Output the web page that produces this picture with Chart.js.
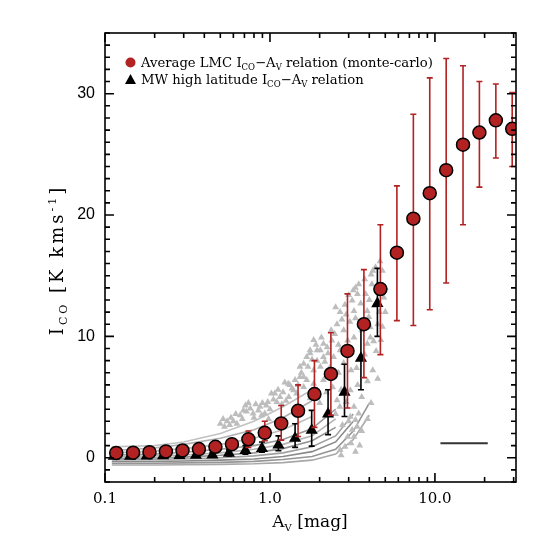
<!DOCTYPE html>
<html lang="en">
<head>
<meta charset="UTF-8" />
<title>Ico - Av relation</title>
<script src="https://cdn.jsdelivr.net/npm/chart.js"></script>
<style>
  html, body { margin: 0; padding: 0; background: #ffffff; }
  canvas { display: block; }
</style>
</head>
<body>
<canvas id="icoChart" width="548" height="548"></canvas>
<script>
// LMC average relation (monte-carlo), red circles
const lmcAv  = [0.117, 0.148, 0.186, 0.234, 0.295, 0.371, 0.467, 0.588, 0.74, 0.93, 1.17, 1.48, 1.86, 2.34, 2.95, 3.71, 4.67, 5.88, 7.4, 9.3, 11.7, 14.8, 18.6, 23.4, 29.4];
const lmcIco = [0.4, 0.42, 0.46, 0.52, 0.6, 0.71, 0.9, 1.12, 1.52, 2.05, 2.83, 3.87, 5.25, 6.9, 8.8, 11.0, 13.9, 16.9, 19.7, 21.8, 23.7, 25.8, 26.8, 27.8, 27.1];
const lmcHi  = [0.6, 0.65, 0.7, 0.8, 0.9, 1.0, 1.25, 1.5, 2.2, 3.0, 4.3, 6.0, 8.0, 10.3, 13.5, 15.5, 19.2, 22.4, 28.3, 31.3, 32.9, 32.3, 31.0, 30.8, 30.1];
const lmcLo  = [0.2, 0.2, 0.25, 0.3, 0.35, 0.45, 0.6, 0.75, 0.85, 1.4, 1.45, 1.75, 2.5, 3.5, 4.1, 6.6, 8.5, 11.3, 10.9, 12.2, 14.4, 19.2, 22.3, 24.7, 24.0];

// MW high latitude relation, black triangles
const mwAv  = [0.113, 0.142, 0.179, 0.225, 0.283, 0.356, 0.448, 0.564, 0.71, 0.894, 1.125, 1.42, 1.79, 2.25, 2.83, 3.56, 4.48];
const mwIco = [0.12, 0.13, 0.15, 0.17, 0.19, 0.2, 0.22, 0.36, 0.6, 0.77, 1.04, 1.6, 2.27, 3.6, 5.4, 8.2, 12.7];
const mwHi  = [0.25, 0.25, 0.3, 0.3, 0.35, 0.4, 0.45, 0.65, 1.0, 1.3, 1.8, 2.8, 3.9, 5.6, 7.7, 10.95, 15.6];
const mwLo  = [0.05, 0.05, 0.05, 0.05, 0.08, 0.1, 0.1, 0.15, 0.3, 0.45, 0.57, 0.85, 0.96, 1.9, 3.4, 5.6, 10.0];

// individual MW clouds, gray triangles [Av, Ico]
const cloudPts = [
  [0.50, 2.8], [0.52, 3.2], [0.53, 2.55], [0.55, 3.0], [0.57, 2.7], [0.60, 3.0], [0.63, 2.8], [0.66, 3.5],
  [0.69, 3.9], [0.72, 3.8], [0.76, 4.05], [0.79, 3.65], [0.85, 3.9], [0.89, 3.5], [0.93, 3.65], [0.98, 3.2],
  [0.82, 4.4], [0.90, 4.5], [0.95, 4.3], [0.74, 4.5], [1.02, 5.3], [1.07, 5.3], [1.15, 5.0], [1.20, 5.4],
  [1.23, 6.2], [1.29, 6.1], [1.32, 6.0], [1.36, 5.7], [1.39, 5.56], [1.45, 5.3], [1.10, 4.6], [1.25, 4.7],
  [1.05, 4.8], [1.60, 7.75], [1.67, 8.3], [1.75, 8.6], [1.84, 9.7], [1.52, 7.5], [1.60, 6.65], [1.93, 8.0],
  [2.02, 8.85], [2.11, 9.4], [2.22, 9.1], [1.84, 6.1], [1.93, 5.56], [1.93, 8.85], [1.75, 8.85], [2.37, 9.66],
  [2.47, 10.2], [2.55, 11.0], [2.66, 12.0], [2.73, 11.4], [2.80, 10.5], [3.15, 12.95], [3.30, 14.0], [3.39, 13.5],
  [3.45, 14.3], [3.23, 12.1], [3.80, 13.5], [3.89, 12.1], [3.97, 11.6], [4.06, 10.75], [4.15, 14.3], [4.20, 15.4],
  [4.36, 15.7], [4.65, 16.2], [4.80, 15.4], [4.90, 13.2], [5.00, 14.0], [4.06, 9.9], [3.89, 9.4], [3.23, 9.9],
  [2.96, 9.66], [2.66, 8.85], [2.43, 8.3], [2.11, 8.3], [1.52, 6.65], [1.60, 5.83], [1.67, 6.4], [1.84, 7.2],
  [2.02, 7.5], [2.11, 6.4], [2.43, 6.65], [2.55, 4.74], [3.07, 5.56], [3.23, 4.2], [3.30, 3.1], [3.38, 2.55],
  [3.23, 1.72], [3.07, 3.37], [3.45, 3.65], [2.96, 1.72], [2.85, 0.9], [2.66, 0.63], [2.30, 7.4], [2.60, 7.0],
  [2.80, 7.8], [3.00, 8.5], [3.10, 7.2], [3.50, 8.2], [3.60, 10.5], [3.70, 11.3], [4.30, 12.5], [4.50, 11.0],
  [4.40, 8.8], [4.20, 7.2], [4.70, 9.7], [4.60, 12.0], [3.40, 6.0], [3.60, 5.0], [3.90, 6.3], [2.70, 5.6],
  [2.90, 4.6], [2.50, 3.6], [2.75, 2.7], [3.15, 2.3], [3.50, 1.0], [3.30, 0.5], [2.70, 0.2], [2.00, 4.5],
  [2.20, 5.4], [1.75, 4.9], [3.90, 3.2], [4.10, 4.5], [4.50, 6.5], [4.80, 10.8], [5.00, 12.0], [3.30, 11.5],
  [2.90, 11.8], [2.50, 12.4], [3.00, 13.4], [0.58, 3.3], [0.62, 3.6], [0.68, 3.2], [0.71, 4.3], [0.80, 3.3],
  [0.87, 4.2], [0.97, 4.6], [1.00, 4.0], [1.12, 5.6], [1.18, 4.4], [1.30, 5.0], [1.42, 6.4], [1.48, 6.0],
  [1.55, 7.0], [1.70, 7.5], [1.80, 8.1], [1.90, 9.3], [2.05, 9.9], [2.15, 7.9], [2.25, 8.6], [2.35, 10.5],
  [2.60, 9.3], [2.85, 12.6], [3.05, 11.2], [3.20, 13.8], [3.55, 12.7], [3.75, 14.7], [4.00, 13.0], [4.10, 15.1],
  [4.45, 14.2], [3.35, 7.4], [3.75, 8.5], [4.25, 9.6], [2.40, 5.8], [2.65, 4.2], [3.00, 3.0], [3.60, 2.2], [3.10, 1.2]
];

// individual MW cloud relations, gray curves
const relAv = [0.11, 0.2, 0.3, 0.5, 0.8, 1.2, 1.8, 2.5, 3.2, 4.0];
const relCurves = [
  [-0.6, -0.6, -0.58, -0.55, -0.5, -0.4, -0.2, 0.3, 1.5, 3.5],
  [-0.45, -0.45, -0.42, -0.38, -0.3, -0.15, 0.1, 0.7, 2.2, 4.5],
  [-0.3, -0.3, -0.27, -0.2, -0.1, 0.1, 0.5, 1.3, 3.0],
  [-0.15, -0.13, -0.1, 0.0, 0.15, 0.4, 0.9, 1.8, 3.6],
  [-0.05, -0.02, 0.05, 0.2, 0.4, 0.75, 1.4, 2.5],
  [0.1, 0.15, 0.22, 0.4, 0.7, 1.1, 1.8, 3.2],
  [0.22, 0.3, 0.45, 0.7, 1.0, 1.5, 2.4, 4.0],
  [0.4, 0.55, 0.75, 1.1, 1.6, 2.3, 3.4],
  [0.6, 0.8, 1.1, 1.6, 2.3, 3.3, 4.7],
  [0.9, 1.0, 1.3, 2.0, 3.0, 4.2, 5.6]
];
const relColors = ['#a8a8a8', '#959595', '#8a8a8a', '#a0a0a0', '#939393', '#b4b4b4', '#9c9c9c', '#bdbdbd', '#b0b0b0', '#c2c2c2'];

// short horizontal bar at lower right
const barAv  = [10.8, 20.9];
const barIco = [1.2, 1.2];

const xTicks = [0.1, 1, 10];
const yTicks = [0, 10, 20, 30];
const xMinor = [0.2, 0.3, 0.4, 0.5, 0.6, 0.7, 0.8, 0.9, 2, 3, 4, 5, 6, 7, 8, 9, 20, 30];

const red = '#b22222';
const serif = '"DejaVu Serif", serif';

function pts(xs, ys) {
  return ys.map((y, i) => ({ x: xs[i], y: y }));
}

const datasets = [
  {
    label: 'LMC', data: pts(lmcAv, lmcIco), errHi: lmcHi, errLo: lmcLo, errColor: red,
    pointStyle: 'circle', pointRadius: 6.5, backgroundColor: red, borderColor: '#000', borderWidth: 1.5, order: 1
  },
  {
    label: 'MW', data: pts(mwAv, mwIco), errHi: mwHi, errLo: mwLo, errColor: '#000',
    pointStyle: 'triangle', pointRadius: 7, backgroundColor: '#000', borderColor: '#000', borderWidth: 0, order: 2
  },
  {
    label: 'bar', data: pts(barAv, barIco), showLine: true, pointRadius: 0,
    borderColor: '#333', borderWidth: 2, order: 3
  },
  {
    label: 'clouds', data: cloudPts.map(p => ({ x: p[0], y: p[1] })),
    pointStyle: 'triangle', pointRadius: 4, backgroundColor: '#bdbdbd', borderWidth: 0, order: 4
  }
];
relCurves.forEach((c, i) => {
  datasets.push({
    label: 'rel' + i, data: pts(relAv, c), showLine: true, pointRadius: 0,
    borderColor: relColors[i], borderWidth: 1.6, order: 5
  });
});

function drawRuns(ctx, runs, x, y, align, spacing) {
  ctx.letterSpacing = (spacing || 0) + 'px';
  let w = 0;
  runs.forEach(r => { ctx.font = r[1] + 'px ' + serif; w += ctx.measureText(r[0]).width; });
  let cx = align === 'center' ? x - w / 2 : x;
  runs.forEach(r => {
    ctx.font = r[1] + 'px ' + serif;
    ctx.fillText(r[0], cx, y + r[2]);
    cx += ctx.measureText(r[0]).width;
  });
  ctx.letterSpacing = '0px';
}

const errorBars = {
  id: 'errorBars',
  beforeDatasetDraw(chart, args) {
    const ds = chart.data.datasets[args.index];
    if (!ds.errHi) return;
    const ctx = chart.ctx, xs = chart.scales.x, ys = chart.scales.y;
    ctx.save();
    ctx.strokeStyle = ds.errColor;
    ctx.lineWidth = 1.6;
    ds.data.forEach((p, i) => {
      const px = xs.getPixelForValue(p.x);
      const top = ys.getPixelForValue(ds.errHi[i]);
      const bot = ys.getPixelForValue(ds.errLo[i]);
      ctx.beginPath();
      ctx.moveTo(px, top); ctx.lineTo(px, bot);
      ctx.moveTo(px - 3, top); ctx.lineTo(px + 3, top);
      ctx.moveTo(px - 3, bot); ctx.lineTo(px + 3, bot);
      ctx.stroke();
    });
    ctx.restore();
  }
};

const frame = {
  id: 'frame',
  afterDraw(chart) {
    const ctx = chart.ctx, a = chart.chartArea, xs = chart.scales.x, ys = chart.scales.y;
    ctx.save();
    ctx.strokeStyle = '#000';
    ctx.lineWidth = 1.6;
    ctx.strokeRect(a.left, a.top, a.right - a.left, a.bottom - a.top);
    ctx.beginPath();
    const tickX = (v, len) => {
      const px = xs.getPixelForValue(v);
      ctx.moveTo(px, a.bottom); ctx.lineTo(px, a.bottom - len);
      ctx.moveTo(px, a.top); ctx.lineTo(px, a.top + len);
    };
    const tickY = (v, len) => {
      const py = ys.getPixelForValue(v);
      ctx.moveTo(a.left, py); ctx.lineTo(a.left + len, py);
      ctx.moveTo(a.right, py); ctx.lineTo(a.right - len, py);
    };
    xTicks.forEach(v => tickX(v, 9));
    xMinor.forEach(v => tickX(v, 5));
    for (let v = -2; v <= 35; v++) tickY(v, v % 10 === 0 ? 9 : 5);
    ctx.stroke();

    // legend
    ctx.fillStyle = red;
    ctx.beginPath();
    ctx.arc(130.5, 62.5, 5, 0, Math.PI * 2);
    ctx.fill();
    ctx.fillStyle = '#000';
    ctx.beginPath();
    ctx.moveTo(130.5, 74); ctx.lineTo(136, 84); ctx.lineTo(125, 84);
    ctx.closePath();
    ctx.fill();
    ctx.textBaseline = 'alphabetic';
    drawRuns(ctx, [['Average LMC I', 13.2, 0], ['CO', 8.5, 3], ['\u2212A', 13.2, 0], ['V', 8.5, 3], [' relation (monte-carlo)', 13.2, 0]], 141, 67);
    drawRuns(ctx, [['MW high latitude I', 13.2, 0], ['CO', 8.5, 3], ['\u2212A', 13.2, 0], ['V', 8.5, 3], [' relation', 13.2, 0]], 141, 84);

    // axis titles
    drawRuns(ctx, [['A', 17, 0], ['V', 10, 4], [' [mag]', 17, 0]], 310, 527, 'center');
    ctx.translate(63, 260);
    ctx.rotate(-Math.PI / 2);
    drawRuns(ctx, [['I', 18, 0], ['CO', 11, 4], [' [K kms', 18, 0], ['-1', 11, -7], [']', 18, 0]], 0, 0, 'center', 3);
    ctx.restore();
  }
};

new Chart(document.getElementById('icoChart').getContext('2d'), {
  type: 'scatter',
  data: { datasets: datasets },
  options: {
    responsive: false,
    animation: false,
    layout: { padding: { top: 33, right: 32, left: 0, bottom: 0 } },
    plugins: { legend: { display: false }, tooltip: { enabled: false } },
    scales: {
      x: {
        type: 'logarithmic', min: 0.1, max: 31,
        grid: { display: false, drawTicks: false }, border: { display: false },
        afterFit: s => { s.height = 66; },
        afterBuildTicks: s => { s.ticks = xTicks.map(v => ({ value: v })); },
        ticks: {
          autoSkip: false, maxRotation: 0, padding: 8, color: '#000',
          font: { family: serif, size: 15 },
          callback: v => (v < 1 ? '0.1' : Number(v).toFixed(1))
        }
      },
      y: {
        min: -2, max: 35,
        grid: { display: false, drawTicks: false }, border: { display: false },
        afterFit: s => { s.width = 105; },
        afterBuildTicks: s => { s.ticks = yTicks.map(v => ({ value: v })); },
        ticks: { padding: 10, color: '#000', font: { family: '"Liberation Sans", Arial, sans-serif', size: 16 } }
      }
    }
  },
  plugins: [errorBars, frame]
});
</script>
</body>
</html>
